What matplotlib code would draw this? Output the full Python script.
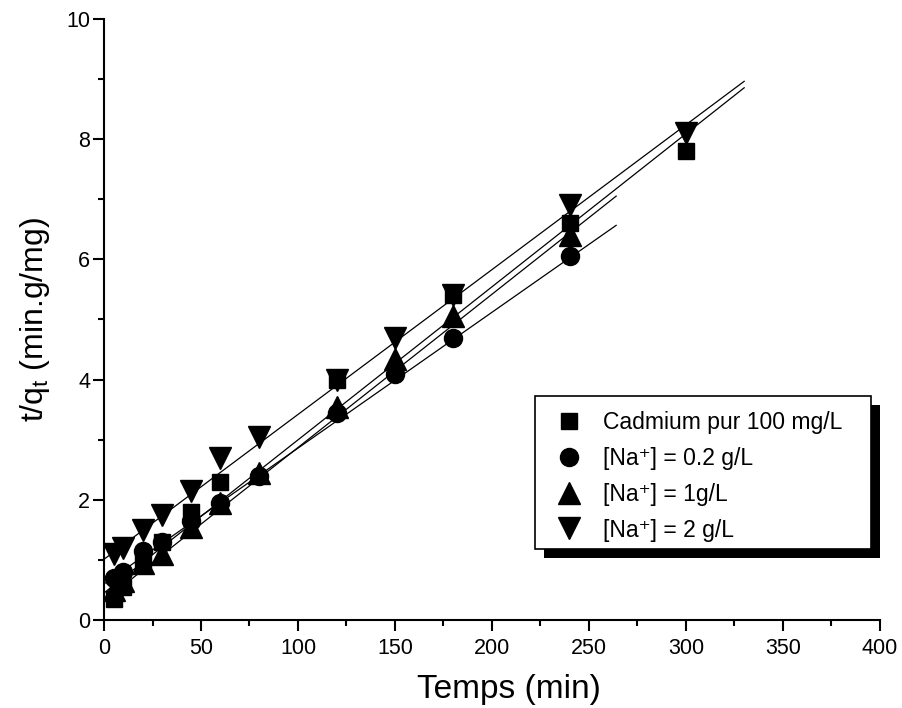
import numpy as np
import matplotlib.pyplot as plt
from matplotlib.patches import Rectangle

plt.rcParams['font.family'] = ['Liberation Sans', 'DejaVu Sans']

# t/qt measurements for each solution
t_cd = [5, 10, 20, 30, 45, 60, 120, 180, 240, 300]
y_cd = [0.35, 0.55, 1.0, 1.3, 1.8, 2.3, 4.0, 5.4, 6.6, 7.8]

t_na02 = [5, 10, 20, 30, 45, 60, 80, 120, 150, 180, 240]
y_na02 = [0.7, 0.8, 1.15, 1.3, 1.65, 1.95, 2.4, 3.45, 4.1, 4.7, 6.05]

t_na1 = [5, 10, 20, 30, 45, 60, 80, 120, 150, 180, 240]
y_na1 = [0.5, 0.65, 0.95, 1.1, 1.55, 1.95, 2.45, 3.55, 4.35, 5.05, 6.4]

t_na2 = [5, 10, 20, 30, 45, 60, 80, 120, 150, 180, 240, 300]
y_na2 = [1.1, 1.2, 1.5, 1.75, 2.15, 2.7, 3.05, 4.0, 4.7, 5.4, 6.9, 8.1]

# pseudo-second-order linear fits: slope, intercept, last t of the line
fit_slope = [0.02547, 0.0226, 0.0255, 0.0241]
fit_icpt = [0.45, 0.60, 0.32, 1.01]
fit_tmax = [330, 264, 264, 330]

labels = ['Cadmium pur 100 mg/L', '[Na\u207a] = 0.2 g/L',
          '[Na\u207a] = 1g/L', '[Na\u207a] = 2 g/L']

series = [(t_cd, y_cd, 's', 12), (t_na02, y_na02, 'o', 13),
          (t_na1, y_na1, '^', 15.5), (t_na2, y_na2, 'v', 15.5)]

fig = plt.figure(figsize=(9.02, 7.08), dpi=100)
ax = fig.add_axes([0.1153, 0.1243, 0.8603, 0.8489])

handles = []
for (t, y, m, ms), lab in zip(series, labels):
    h, = ax.plot(t, y, ls='none', marker=m, ms=ms, color='black', label=lab, zorder=3)
    handles.append(h)

for a, b, tm in zip(fit_slope, fit_icpt, fit_tmax):
    tt = np.array([0, tm])
    ax.plot(tt, b + a * tt, color='black', lw=0.9, zorder=4)

ax.set_xlim(0, 400)
ax.set_ylim(0, 10)
ax.set_xticks(np.arange(0, 401, 50))
ax.set_xticks(np.arange(25, 400, 50), minor=True)
ax.set_yticks(np.arange(0, 11, 2))
ax.set_yticks(np.arange(1, 10, 2), minor=True)
for s in ['top', 'right']:
    ax.spines[s].set_visible(False)
for s in ['left', 'bottom']:
    ax.spines[s].set_linewidth(1.5)
ax.tick_params(which='major', direction='out', length=8, width=1.5, labelsize=15.5)
ax.tick_params(axis='y', pad=2)
ax.tick_params(axis='x', pad=5)
ax.tick_params(which='minor', direction='out', length=4, width=1.5)

ax.set_xlabel('Temps (min)', fontsize=24)
ax.xaxis.set_label_coords(0.522, -0.09)
ax.set_ylabel('t/q$_\\mathregular{t}$ (min.g/mg)', fontsize=23, labelpad=10)

# legend box with an offset black shadow (figure pixel coords)
W, H = 902, 708
box = (535, 396, 871, 549)
off = 9
fig.patches.append(Rectangle((box[0] + off, H - box[3] - off), box[2] - box[0], box[3] - box[1],
                             transform=None, facecolor='black', edgecolor='none', zorder=8,
                             figure=fig))
fig.patches.append(Rectangle((box[0], H - box[3]), box[2] - box[0], box[3] - box[1],
                             transform=None, facecolor='white', edgecolor='black', lw=1.2,
                             zorder=9, figure=fig))

leg = fig.legend(handles=handles, loc='upper left', bbox_to_anchor=(546 / W, 1 - 411 / H),
                 fontsize=16.5, frameon=False, borderpad=0, labelspacing=0.56,
                 handletextpad=0.5, handlelength=2.0, borderaxespad=0)
leg.set_zorder(10)

fig.savefig('out.png', dpi=100)
